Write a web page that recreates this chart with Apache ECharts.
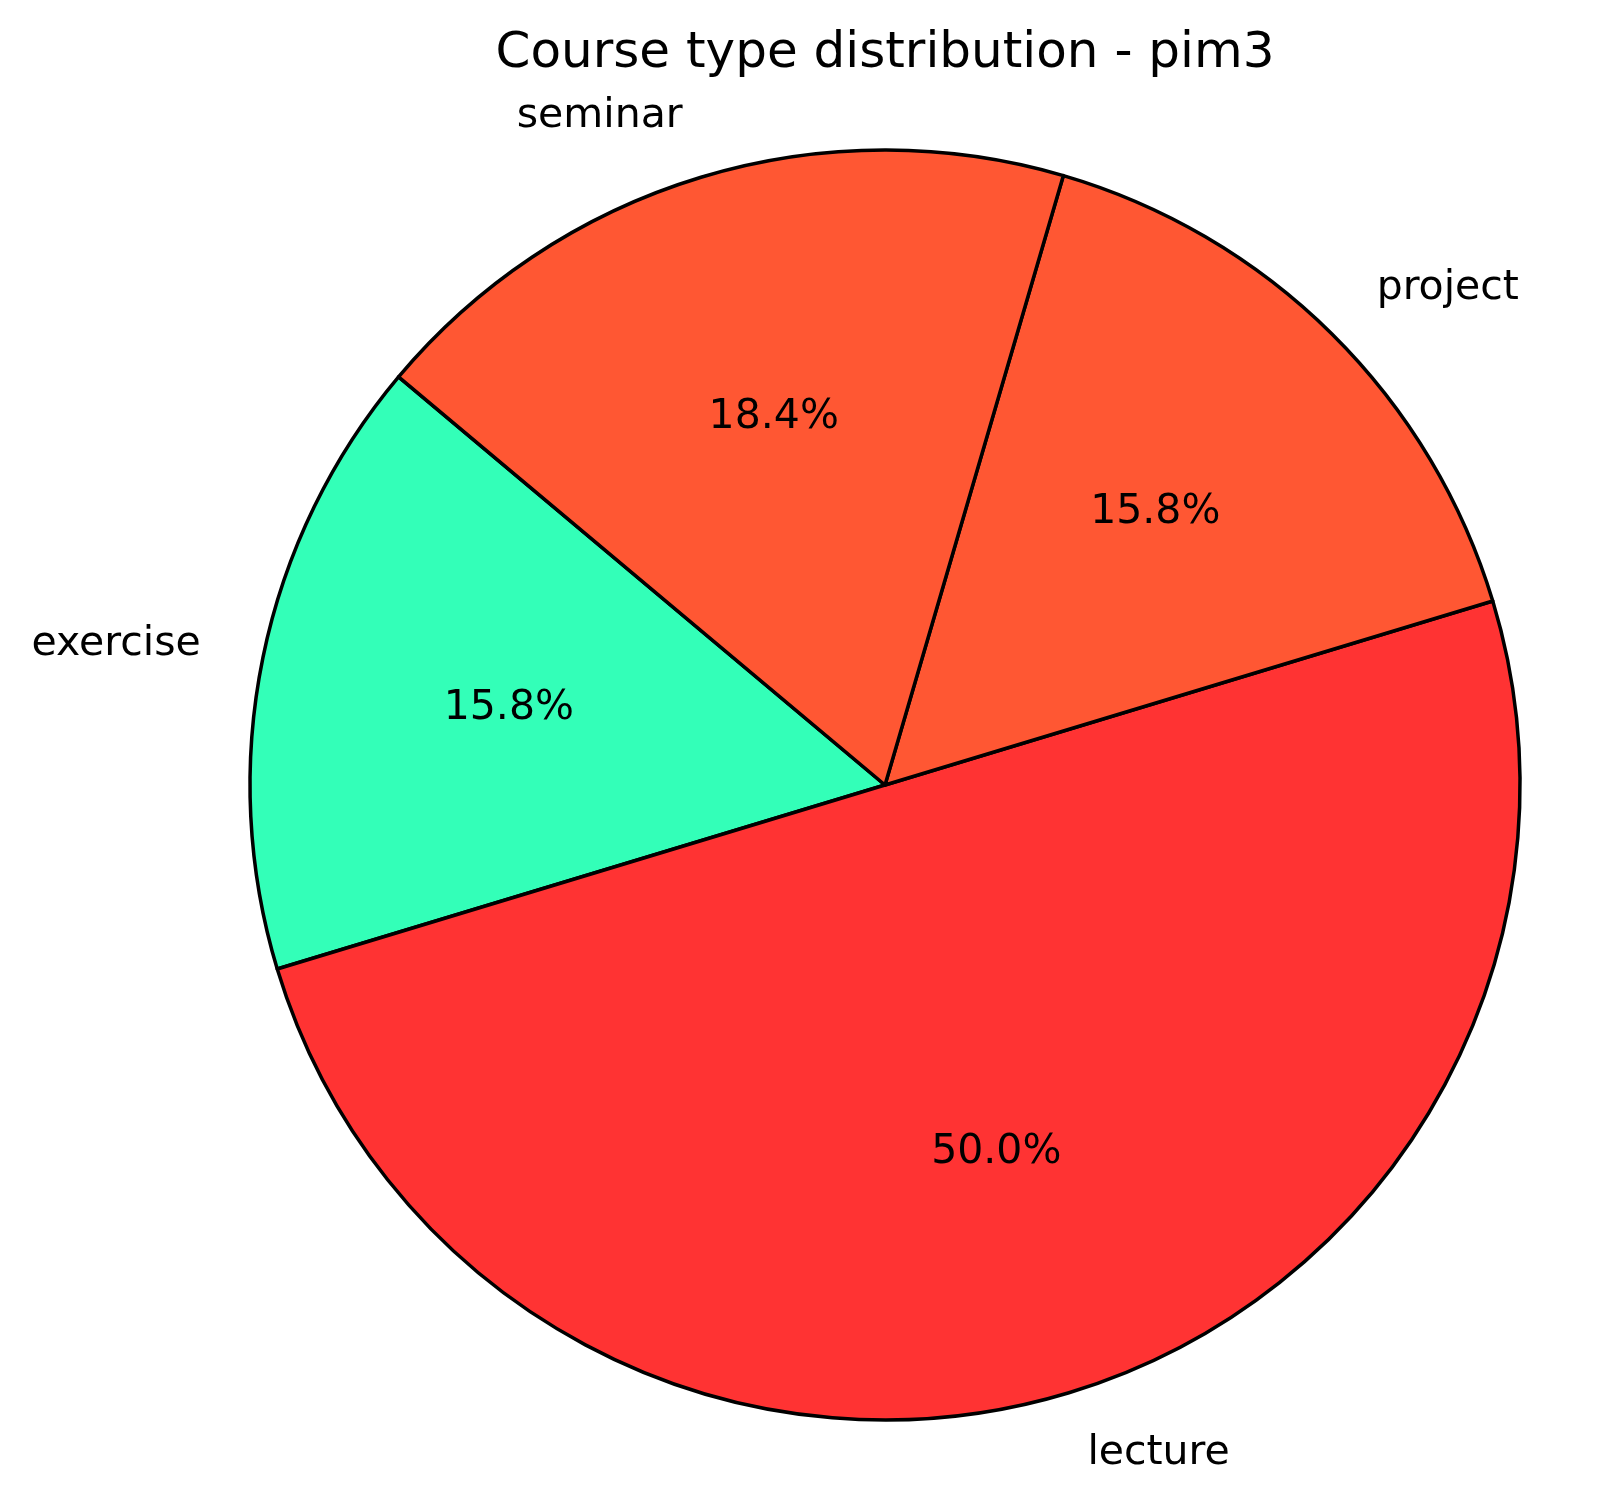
<!DOCTYPE html>
<html>
<head>
<meta charset="utf-8">
<script src="https://cdn.jsdelivr.net/npm/echarts@6/dist/echarts.min.js"></script>
<style>html,body{margin:0;padding:0;background:#fff}#c{width:1612px;height:1509px}</style>
</head>
<body>
<div id="c"></div>
<script>
const categories = ['exercise', 'lecture', 'project', 'seminar'];
const counts = [6, 19, 6, 7];
const colors = ['#33FFB8', '#FF3333', '#FF5733', '#FF5733'];
const titleText = 'Course type distribution - pim3';

const CX = 885, CY = 785, R = 635;
const FONT = 'DejaVu Sans';

const chart = echarts.init(document.getElementById('c'), null, {renderer: 'canvas'});
const mainData = categories.map((c, i) => ({name: c, value: counts[i], itemStyle: {color: colors[i]}}));
const pctData = categories.map((c, i) => ({name: c, value: counts[i]}));

chart.setOption({
  animation: false,
  backgroundColor: '#fff',
  graphic: [{
    type: 'text', x: CX, y: 54,
    style: {text: titleText, fontFamily: FONT, fontSize: 50, fill: '#000', textAlign: 'center', textVerticalAlign: 'middle'}
  }],
  series: [
    {
      type: 'pie', center: [CX, CY], radius: [0, R], startAngle: 140, clockwise: false,
      avoidLabelOverlap: false, silent: true,
      data: mainData,
      itemStyle: {borderColor: '#000', borderWidth: 3.5},
      label: {show: true, position: 'outside', formatter: '{b}', fontFamily: FONT, fontSize: 41, color: '#000', distanceToLabelLine: 0, alignTo: 'none', padding: [6, 0, 0, 0]},
      labelLine: {show: false, length: R * 0.1, length2: 0},
      emphasis: {disabled: true}
    },
    {
      type: 'pie', center: [CX, CY], radius: [0, R * 1.2], startAngle: 140, clockwise: false,
      avoidLabelOverlap: false, silent: true,
      data: pctData,
      itemStyle: {color: 'rgba(0,0,0,0)', borderWidth: 0},
      label: {show: true, position: 'inside', formatter: p => p.percent.toFixed(1) + '%', fontFamily: FONT, fontSize: 41, color: '#000', textBorderWidth: 0, padding: [3, 0, 0, 0]},
      labelLine: {show: false},
      emphasis: {disabled: true}
    }
  ]
});
</script>
</body>
</html>
